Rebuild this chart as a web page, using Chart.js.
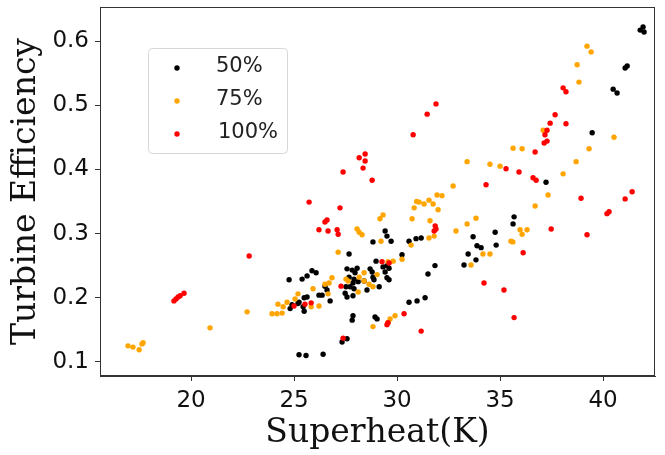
<!DOCTYPE html>
<html>
<head>
<meta charset="utf-8">
<script src="https://cdn.jsdelivr.net/npm/chart.js@4.4.0/dist/chart.umd.min.js"></script>
<style>
  html, body { margin: 0; padding: 0; background: #fff; }
  #wrap { width: 665px; height: 455px; }
</style>
</head>
<body>
<div id="wrap"><canvas id="effChart" width="665" height="455"></canvas></div>
<script>
// data
const seriesNames = ['50%', '75%', '100%'];
const seriesColors = ['#000000', '#ffa500', '#ff0000'];

const x50 = [24.76,25.39,25.63,25.87,26.07,25.24,25.49,25.63,24.81,25.44,
  25.49,24.90,26.21,26.36,26.60,26.50,26.75,25.24,25.58,26.41,
  27.33,27.57,27.67,27.57,27.82,28.06,27.96,27.67,27.91,27.86,
  28.11,27.52,27.72,27.91,27.48,27.57,27.86,28.54,28.69,28.79,
  28.83,28.88,29.13,28.40,28.83,28.98,29.42,29.51,29.71,29.32,
  29.51,29.61,29.42,29.51,29.61,30.24,30.58,30.92,31.17,31.50,
  31.84,30.58,30.97,31.36,27.86,27.82,28.93,29.03,35.68,35.63,
  34.76,34.81,33.69,33.88,34.08,33.45,33.83,33.25,39.47,37.23,
  40.49,40.68,41.07,41.17,41.80,41.94,41.99,25.19];
const y50 = [0.228,0.229,0.234,0.242,0.239,0.193,0.200,0.201,0.183,0.186,
  0.179,0.189,0.204,0.204,0.212,0.218,0.195,0.111,0.110,0.112,
  0.131,0.136,0.268,0.245,0.243,0.246,0.239,0.232,0.229,0.223,
  0.225,0.217,0.217,0.214,0.207,0.201,0.203,0.212,0.245,0.240,
  0.232,0.228,0.217,0.226,0.287,0.257,0.304,0.296,0.288,0.248,
  0.250,0.246,0.240,0.231,0.228,0.267,0.288,0.292,0.293,0.237,
  0.250,0.193,0.195,0.200,0.172,0.165,0.170,0.167,0.326,0.315,
  0.302,0.282,0.295,0.281,0.278,0.268,0.259,0.251,0.457,0.380,
  0.525,0.519,0.558,0.561,0.617,0.622,0.614,0.191];

const x75 = [16.94,17.18,17.48,17.62,17.67,20.92,22.72,23.93,24.17,24.42,
  24.22,24.47,24.66,25.05,25.19,25.92,25.83,26.21,26.70,26.84,
  26.50,26.65,27.14,27.52,27.62,28.11,28.06,28.16,28.30,28.40,
  28.16,28.40,28.64,28.83,29.03,29.22,29.17,29.32,29.56,29.81,
  30.24,28.83,29.56,29.66,29.90,30.73,30.83,30.68,31.07,31.31,
  31.55,31.75,31.99,31.94,32.18,31.60,31.55,31.80,32.86,33.40,
  33.83,32.72,33.40,34.51,35.00,35.63,36.07,34.17,34.51,33.59,
  35.53,35.62,35.97,36.07,36.31,36.70,37.33,38.06,38.69,39.32,
  40.53,37.09,38.83,38.74,39.22,39.42,30.95];
const y75 = [0.125,0.123,0.119,0.128,0.130,0.153,0.178,0.175,0.175,0.176,
  0.190,0.186,0.193,0.198,0.206,0.214,0.186,0.187,0.223,0.231,
  0.221,0.206,0.271,0.229,0.226,0.209,0.307,0.302,0.298,0.239,
  0.232,0.226,0.221,0.217,0.236,0.288,0.323,0.329,0.256,0.257,
  0.260,0.155,0.161,0.167,0.172,0.323,0.340,0.282,0.349,0.346,
  0.352,0.346,0.337,0.360,0.359,0.320,0.293,0.296,0.304,0.315,
  0.324,0.374,0.412,0.408,0.405,0.433,0.432,0.268,0.268,0.251,
  0.288,0.287,0.306,0.299,0.306,0.343,0.360,0.393,0.412,0.432,
  0.450,0.461,0.536,0.563,0.592,0.583,0.350];

const x100 = [19.17,19.27,19.37,19.47,19.66,22.82,25.00,25.53,25.83,25.73,
  26.50,26.60,26.21,26.65,27.09,27.14,27.23,27.28,27.38,27.38,
  28.16,28.45,28.45,28.35,28.79,29.27,29.61,30.34,29.51,29.56,
  31.17,30.78,31.46,31.89,31.80,31.89,31.85,34.32,34.22,35.19,
  35.68,36.12,35.29,35.92,36.60,36.75,36.70,37.14,37.28,37.18,
  37.28,37.43,37.67,38.20,38.06,38.20,37.48,39.22,38.93,40.19,
  40.29,41.07,41.41];
const y100 = [0.195,0.198,0.201,0.203,0.207,0.265,0.187,0.190,0.192,0.349,
  0.318,0.321,0.306,0.304,0.306,0.299,0.340,0.218,0.137,0.396,
  0.418,0.424,0.413,0.402,0.383,0.256,0.254,0.175,0.158,0.161,
  0.148,0.454,0.486,0.502,0.304,0.307,0.312,0.376,0.223,0.212,
  0.169,0.270,0.401,0.396,0.387,0.383,0.427,0.441,0.444,0.454,
  0.461,0.472,0.485,0.471,0.527,0.521,0.307,0.298,0.355,0.331,
  0.334,0.354,0.365];

const xTicks = [20, 25, 30, 35, 40];
const yTicks = [0.1, 0.2, 0.3, 0.4, 0.5, 0.6];

function toPoints(xs, ys) {
    const n = Math.min(xs.length, ys.length);
    const pts = [];
    for (let i = 0; i < n; i++) pts.push({ x: xs[i], y: ys[i] });
    return pts;
}

const allX = [x50, x75, x100];
const allY = [y50, y75, y100];

// matplotlib style frame + legend box
const framePlugin = {
    id: 'frame',
    afterDraw(chart) {
        const { ctx, chartArea: a } = chart;
        ctx.save();
        ctx.strokeStyle = '#333';
        ctx.lineWidth = 1;
        ctx.strokeRect(a.left + 0.5, a.top + 0.5, a.right - a.left - 1, a.bottom - a.top - 1);

        // legend
        const bx = 148, by = 48, bw = 139, bh = 105;
        ctx.beginPath();
        ctx.roundRect(bx + 0.5, by + 0.5, bw, bh, 4);
        ctx.fillStyle = 'rgba(255,255,255,0.8)';
        ctx.fill();
        ctx.strokeStyle = '#d6d6d6';
        ctx.stroke();
        ctx.font = '21px "DejaVu Sans"';
        ctx.textBaseline = 'middle';
        ctx.textAlign = 'left';
        chart.data.datasets.forEach((ds, i) => {
            const yy = 67 + i * 33;
            ctx.beginPath();
            ctx.arc(177, yy + 1, 2.7, 0, Math.PI * 2);
            ctx.fillStyle = ds.backgroundColor;
            ctx.fill();
            ctx.fillStyle = '#222';
            ctx.fillText(ds.label, i === 2 ? 218 : 216, yy);
        });
        ctx.restore();
    }
};

const ctx = document.getElementById('effChart').getContext('2d');
new Chart(ctx, {
    type: 'scatter',
    data: {
        datasets: seriesNames.map((name, i) => ({
            label: name,
            data: toPoints(allX[i], allY[i]),
            backgroundColor: seriesColors[i],
            borderWidth: 0,
            pointRadius: 2.7,
            order: 3 - i
        }))
    },
    options: {
        responsive: false,
        animation: false,
        layout: { padding: { top: 7, right: 10, left: 0, bottom: 0 } },
        plugins: {
            legend: { display: false },
            tooltip: { enabled: false }
        },
        scales: {
            x: {
                type: 'linear',
                min: 15.58,
                max: 42.52,
                afterBuildTicks: (scale) => { scale.ticks = xTicks.map(v => ({ value: v })); },
                afterFit: (scale) => {
                    scale.height = 79;
                    scale.paddingLeft = 0;
                    scale.paddingRight = 0;
                },
                grid: { display: true, drawOnChartArea: false, drawTicks: true, tickLength: 5, color: '#333' },
                border: { display: true, color: '#333' },
                ticks: { color: '#111', font: { family: 'DejaVu Sans', size: 23 }, padding: 6, maxRotation: 0 },
                title: {
                    display: true,
                    text: 'Superheat(K)',
                    color: '#111',
                    font: { family: 'DejaVu Serif', size: 33 },
                    padding: { top: 0, bottom: 2 }
                }
            },
            y: {
                type: 'linear',
                min: 0.078,
                max: 0.653,
                afterBuildTicks: (scale) => { scale.ticks = yTicks.map(v => ({ value: v })); },
                afterFit: (scale) => {
                    scale.width = 100;
                    scale.paddingTop = 0;
                    scale.paddingBottom = 0;
                },
                grid: { display: true, drawOnChartArea: false, drawTicks: true, tickLength: 5, color: '#333' },
                border: { display: true, color: '#333' },
                ticks: {
                    color: '#111',
                    font: { family: 'DejaVu Sans', size: 23 },
                    padding: 6,
                    callback: (v) => v.toFixed(1)
                },
                title: {
                    display: true,
                    text: 'Turbine Efficiency',
                    color: '#111',
                    font: { family: 'DejaVu Serif', size: 33 },
                    padding: { top: 7, bottom: 0 }
                }
            }
        }
    },
    plugins: [framePlugin]
});
</script>
</body>
</html>
